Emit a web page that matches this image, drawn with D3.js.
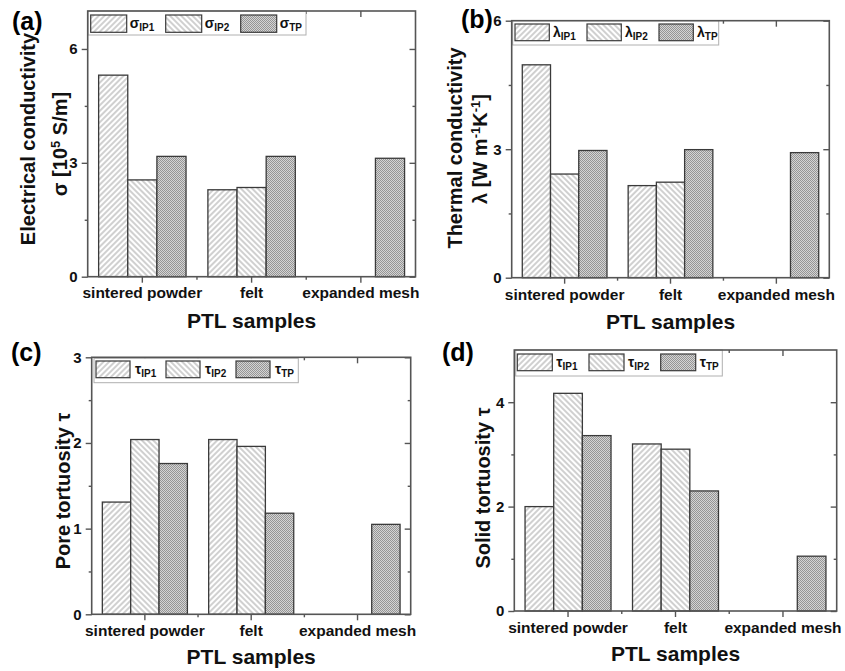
<!DOCTYPE html>
<html>
<head>
<meta charset="utf-8">
<script src="https://cdn.jsdelivr.net/npm/d3@7"></script>
<style>
  html, body { margin: 0; padding: 0; background: #fff; }
  svg { display: block; }
  svg text { font-family: "Liberation Sans", Arial, sans-serif; font-weight: bold; }
</style>
</head>
<body>
<svg id="fig" width="845" height="671"></svg>
<script>
// ---- data ----
const categories = ["sintered powder", "felt", "expanded mesh"];
const seriesKeys = ["IP1", "IP2", "TP"];

// (a) electrical conductivity, 10^5 S/m
const sigmaIP1 = [5.31, 2.29, null];
const sigmaIP2 = [2.55, 2.35, null];
const sigmaTP  = [3.17, 3.17, 3.12];

// (b) thermal conductivity, W m^-1 K^-1
const lambdaIP1 = [4.97, 2.15, null];
const lambdaIP2 = [2.42, 2.23, null];
const lambdaTP  = [2.97, 2.99, 2.92];

// (c) pore tortuosity
const poreIP1 = [1.31, 2.04, null];
const poreIP2 = [2.04, 1.96, null];
const poreTP  = [1.76, 1.18, 1.05];

// (d) solid tortuosity
const solidIP1 = [2.00, 3.20, null];
const solidIP2 = [4.17, 3.10, null];
const solidTP  = [3.36, 2.30, 1.05];

const ticksA = [0, 3, 6], minorA = [1.5, 4.5];
const ticksB = [0, 3, 6], minorB = [1.5, 4.5];
const ticksC = [0, 1, 2, 3], minorC = [0.5, 1.5, 2.5];
const ticksD = [0, 2, 4], minorD = [1, 3];

// ---- layout of the four panels ----
const panels = [
  { tag: "(a)", tagX: 12, tagY: 30,
    frame: [87.7, 11, 415.5, 276.7], yMax: 7, ticks: ticksA, minor: minorA,
    symbol: "σ", values: [sigmaIP1, sigmaIP2, sigmaTP],
    title: [{ x: 28, y: 139, parts: [["Electrical conductivity"]] },
            { x: 60, y: 144, parts: [["σ [10"], ["5", "sup"], [" S/m]"]] }],
    catY: 298, xTitleY: 328,
    legend: { x: 88, y: 11, w: 218, h: 24, sx: 90.7, sy: 15, sw: 36, sh: 17.3, step: 75, tx: 39 } },
  { tag: "(b)", tagX: 461, tagY: 28,
    frame: [511.7, 20.7, 829.3, 277.7], yMax: 6, ticks: ticksB, minor: minorB,
    symbol: "λ", values: [lambdaIP1, lambdaIP2, lambdaTP],
    title: [{ x: 455, y: 148, parts: [["Thermal conductivity"]] },
            { x: 480, y: 149, parts: [["λ [W m"], ["-1", "sup"], ["K"], ["-1", "sup"], ["]"]] }],
    catY: 300, xTitleY: 329,
    legend: { x: 512.7, y: 20.7, w: 206, h: 24.3, sx: 515, sy: 24, sw: 34.3, sh: 16.7, step: 72, tx: 38 } },
  { tag: "(c)", tagX: 11, tagY: 361,
    frame: [91.7, 357.3, 410.7, 614.3], yMax: 3, ticks: ticksC, minor: minorC,
    symbol: "τ", values: [poreIP1, poreIP2, poreTP],
    title: [{ x: 63, y: 491, parts: [["Pore tortuosity τ"]] }],
    catY: 635.5, xTitleY: 664,
    legend: { x: 94, y: 358.3, w: 204.3, h: 24.4, sx: 96, sy: 361, sw: 34, sh: 16.7, step: 70, tx: 39 } },
  { tag: "(d)", tagX: 442, tagY: 361,
    frame: [514.3, 350, 836.7, 611], yMax: 5, ticks: ticksD, minor: minorD,
    symbol: "τ", values: [solidIP1, solidIP2, solidTP],
    title: [{ x: 483, y: 488, parts: [["Solid tortuosity τ"]] }],
    catY: 632.5, xTitleY: 661,
    legend: { x: 515.7, y: 350, w: 206.6, h: 26, sx: 517.3, sy: 354, sw: 35, sh: 16.7, step: 71.7, tx: 39 } }
];

const svg = d3.select("#fig");
const defs = svg.append("defs");

// fill patterns: forward hatch, backward hatch, fine checker
function hatch(id, angle) {
  const p = defs.append("pattern").attr("id", id)
    .attr("patternUnits", "userSpaceOnUse").attr("width", 4).attr("height", 4)
    .attr("patternTransform", `rotate(${angle})`);
  p.append("rect").attr("width", 4).attr("height", 4).attr("fill", "#fff");
  p.append("line").attr("x1", 1).attr("y1", 0).attr("x2", 1).attr("y2", 4)
    .attr("stroke", "#a2a2a2").attr("stroke-width", 1);
}
hatch("fill-IP1", 45);
hatch("fill-IP2", -45);
const chk = defs.append("pattern").attr("id", "fill-TP")
  .attr("patternUnits", "userSpaceOnUse").attr("width", 2).attr("height", 2);
chk.append("rect").attr("width", 2).attr("height", 2).attr("fill", "#d4d4d4");
chk.append("rect").attr("width", 1).attr("height", 1).attr("fill", "#959595");
chk.append("rect").attr("x", 1).attr("y", 1).attr("width", 1).attr("height", 1).attr("fill", "#959595");

const frameColor = "#555";
const barStroke = "#3a3a3a";
const fontFamily = '"Liberation Sans", Arial, sans-serif';

panels.forEach(P => {
  const [L, T, R, B] = P.frame;
  const g = svg.append("g");

  const x = d3.scaleBand().domain(categories).range([L, R]).paddingInner(0.2).paddingOuter(0.1);
  const xs = d3.scaleBand().domain(seriesKeys).range([0, x.bandwidth()]);
  const y = d3.scaleLinear().domain([0, P.yMax]).range([B, T]);

  // bars
  const rows = [];
  categories.forEach((c, ci) => seriesKeys.forEach((k, si) => {
    const v = P.values[si][ci];
    if (v != null) rows.push({ c, k, v });
  }));
  g.selectAll("rect.bar").data(rows).join("rect").attr("class", "bar")
    .attr("x", d => x(d.c) + xs(d.k))
    .attr("y", d => y(d.v))
    .attr("width", xs.bandwidth())
    .attr("height", d => y(0) - y(d.v))
    .attr("fill", d => `url(#fill-${d.k})`)
    .attr("stroke", barStroke).attr("stroke-width", 1.3);

  // axes
  const styleAxis = sel => {
    sel.attr("font-family", fontFamily).attr("font-size", 15).attr("font-weight", "bold");
    sel.select(".domain").remove();
    sel.selectAll("line").attr("stroke", frameColor).attr("stroke-width", 1.4);
    sel.selectAll("text").attr("fill", "#111");
  };
  g.append("g").attr("transform", `translate(${L},0)`)
    .call(d3.axisLeft(y).tickValues(P.ticks).tickSize(6).tickPadding(4).tickFormat(d3.format("d")))
    .call(styleAxis);
  g.append("g").attr("transform", `translate(${L},0)`)
    .call(d3.axisLeft(y).tickValues(P.minor).tickSize(3).tickFormat(""))
    .call(styleAxis);
  g.append("g").attr("transform", `translate(${R},0)`)
    .call(d3.axisRight(y).tickValues(P.ticks).tickSize(-6).tickFormat(""))
    .call(styleAxis);
  g.append("g").attr("transform", `translate(${R},0)`)
    .call(d3.axisRight(y).tickValues(P.minor).tickSize(-3).tickFormat(""))
    .call(styleAxis);

  g.append("g").attr("transform", `translate(0,${B})`)
    .call(d3.axisBottom(x).tickSize(6).tickFormat(() => ""))
    .call(styleAxis);
  g.append("g").attr("transform", `translate(0,${T})`)
    .call(d3.axisTop(x).tickSize(-6).tickFormat(() => ""))
    .call(styleAxis);

  // minor ticks at the boundaries between categories
  const bounds = categories.slice(1).map(c => x(c) - x.step() * x.paddingInner() / 2);
  bounds.forEach(bx => {
    g.append("line").attr("x1", bx).attr("x2", bx).attr("y1", B).attr("y2", B + 3)
      .attr("stroke", frameColor).attr("stroke-width", 1.4);
    g.append("line").attr("x1", bx).attr("x2", bx).attr("y1", T).attr("y2", T + 3)
      .attr("stroke", frameColor).attr("stroke-width", 1.4);
  });

  // category labels
  g.selectAll("text.cat").data(categories).join("text").attr("class", "cat")
    .attr("x", d => x(d) + x.bandwidth() / 2).attr("y", P.catY)
    .attr("text-anchor", "middle").style("font-size", "15.5px").attr("fill", "#111")
    .text(d => d);

  // x-axis title
  g.append("text").attr("x", (L + R) / 2).attr("y", P.xTitleY)
    .attr("text-anchor", "middle").style("font-size", "21px").attr("fill", "#111")
    .text("PTL samples");

  // legend (drawn over the top axis)
  const lg = P.legend;
  g.append("rect").attr("x", lg.x).attr("y", lg.y).attr("width", lg.w).attr("height", lg.h)
    .attr("fill", "#fff").attr("stroke", "#b0b0b0").attr("stroke-width", 1);
  seriesKeys.forEach((k, i) => {
    const sx = lg.sx + i * lg.step;
    g.append("rect").attr("x", sx).attr("y", lg.sy).attr("width", lg.sw).attr("height", lg.sh)
      .attr("fill", `url(#fill-${k})`).attr("stroke", barStroke).attr("stroke-width", 1.2);
    const t = g.append("text").attr("x", sx + lg.tx).attr("y", lg.sy + lg.sh - 4)
      .attr("fill", "#111");
    t.append("tspan").style("font-size", "14px").text(P.symbol);
    t.append("tspan").style("font-size", "10px").attr("dy", 3).text(k);
  });

  // frame
  g.append("rect").attr("x", L).attr("y", T).attr("width", R - L).attr("height", B - T)
    .attr("fill", "none").attr("stroke", frameColor).attr("stroke-width", 1.6);

  // y-axis title lines (rotated)
  P.title.forEach(line => {
    const t = g.append("text")
      .attr("transform", `translate(${line.x},${line.y}) rotate(-90)`)
      .attr("text-anchor", "middle").attr("dy", "0.36em")
      .style("font-size", "20px").attr("fill", "#111");
    line.parts.forEach(([s, kind]) => {
      const ts = t.append("tspan").text(s);
      if (kind === "sup") ts.style("font-size", "13px").attr("baseline-shift", "super");
    });
  });

  // panel tag
  g.append("text").attr("x", P.tagX).attr("y", P.tagY)
    .style("font-size", "25px").attr("fill", "#000").text(P.tag);
});
</script>
</body>
</html>
